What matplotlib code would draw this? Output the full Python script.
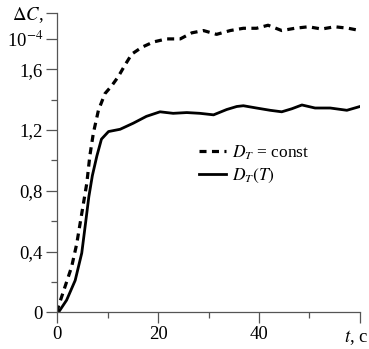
import matplotlib
matplotlib.use("Agg")
import matplotlib.pyplot as plt

plt.rcParams['font.family'] = ['Liberation Serif', 'DejaVu Serif']
plt.rcParams['mathtext.fontset'] = 'stix'

# Data
t_const = [0, 0.3, 1.6, 2.9, 3.9, 4.9, 5.9, 6.5, 7.2, 8.2, 9.5, 10.8, 12.1, 13.5, 14.8, 16.8,
           19.1, 21.7, 24.4, 26.7, 29.0, 31.6, 34.3, 36.9, 39.5, 41.8, 44.5, 47.1, 49.8,
           52.4, 55.0, 57.7, 60]
dc_const = [0, 0.04, 0.17, 0.30, 0.45, 0.65, 0.85, 1.03, 1.18, 1.33, 1.44, 1.49, 1.55, 1.63, 1.70, 1.745,
            1.78, 1.80, 1.80, 1.84, 1.855, 1.83, 1.855, 1.87, 1.87, 1.89, 1.855, 1.87, 1.88,
            1.865, 1.88, 1.87, 1.855]

t_var = [0, 0.3, 1.9, 3.6, 4.9, 5.7, 6.3, 7.0, 7.9, 8.8, 10.2, 12.5, 15.1, 17.7, 20.4, 23.0,
         25.7, 28.3, 31.0, 33.6, 35.6, 36.9, 39.5, 42.2, 44.5, 46.5, 48.5, 51.1, 54.1, 57.4, 60]
dc_var = [0, 0.0, 0.08, 0.21, 0.39, 0.60, 0.76, 0.90, 1.03, 1.14, 1.19, 1.205, 1.245, 1.29, 1.32, 1.31,
          1.315, 1.31, 1.30, 1.335, 1.355, 1.36, 1.345, 1.33, 1.32, 1.34, 1.365, 1.345, 1.345, 1.33, 1.355]

label_const = r"$D_T$ = const"
label_var = r"$D_T(T)$"

x_major = [0, 20, 40, 60]
x_major_labels = ["0", "20", "40", ""]
x_minor = [10, 30, 50]
y_major = [0, 0.4, 0.8, 1.2, 1.6, 1.8, 1.97]
y_major_labels = ["0", "0,4", "0,8", "1,2", "1,6", r"10$^{-4}$", r"$\Delta C$,"]
y_minor = [0.2, 0.6, 1.0, 1.4]

FS = 13.5

fig = plt.figure(figsize=(3.69, 3.49), dpi=100)
ax = fig.add_axes([0.1545, 0.1052, 0.8211, 0.8573])

ax.plot(t_const, dc_const, color='black', lw=2.3, linestyle=(0, (2.2, 1.7)),
        label=label_const, dash_capstyle='butt', dash_joinstyle='round')
ax.plot(t_var, dc_var, color='black', lw=2.0, label=label_var, solid_joinstyle='round')

ax.set_xlim(0, 60)
ax.set_ylim(0, 1.97)
for s in ['top', 'right']:
    ax.spines[s].set_visible(False)
for s in ['left', 'bottom']:
    ax.spines[s].set_color('#555555')
    ax.spines[s].set_linewidth(0.9)

ax.set_xticks(x_major)
ax.set_xticklabels(x_major_labels)
ax.set_xticks(x_minor, minor=True)
ax.set_yticks(y_major)
ax.set_yticklabels(y_major_labels)
ax.set_yticks(y_minor, minor=True)
ax.tick_params(which='major', length=8, width=0.9, color='#555555', labelsize=FS, pad=2)
ax.tick_params(which='minor', length=4.5, width=0.9, color='#555555')

ax.text(59.3, -0.052, r"$t$, c", transform=ax.get_xaxis_transform(), ha='center', va='top',
        fontsize=FS)

ax.legend(loc='upper left', bbox_to_anchor=(0.47, 0.565), frameon=False, fontsize=12.5,
          handlelength=1.55, handletextpad=0.35, labelspacing=0.3, borderaxespad=0,
          borderpad=0)

fig.savefig("out.png", dpi=100)
